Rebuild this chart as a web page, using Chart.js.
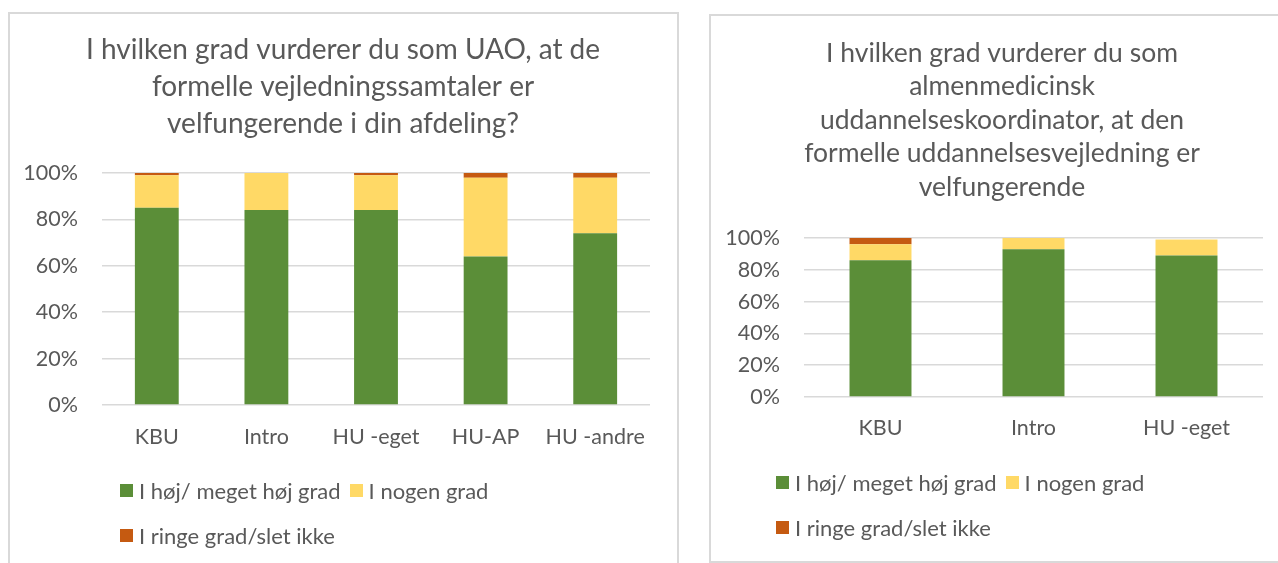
<!DOCTYPE html>
<html>
<head>
<meta charset="utf-8">
<script src="https://cdn.jsdelivr.net/npm/chart.js@4"></script>
<style>
  html, body { margin: 0; padding: 0; background: #fff; overflow: hidden; }
  body { width: 1278px; height: 563px; position: relative; font-family: Lato, sans-serif; }
  .card { position: absolute; border: 2px solid #d9d9d9; box-sizing: border-box; }
  canvas { position: absolute; top: 0; }
  .legend { position: absolute; color: #595959; font: 22px Lato, sans-serif; }
  .row { position: absolute; left: 0; display: flex; align-items: center; white-space: nowrap; height: 26px; transform: translateY(-50%); }
  .item { display: flex; align-items: center; margin-right: 9px; }
  .box { width: 13px; height: 13px; margin-right: 6px; }
</style>
</head>
<body>
<div class="card" style="left:8px;top:12px;width:671px;height:600px"></div>
<div class="card" style="left:709px;top:14px;width:600px;height:549px"></div>
<canvas id="left" width="690" height="563" style="left:0;width:690px;height:563px"></canvas>
<canvas id="right" width="588" height="563" style="left:690px;width:588px;height:563px"></canvas>
<div class="legend" id="legLeft" style="left:120px;top:0"></div>
<div class="legend" id="legRight" style="left:776px;top:0"></div>
<script>
// data
const seriesNames = ['I høj/ meget høj grad', 'I nogen grad', 'I ringe grad/slet ikke'];
const seriesColors = ['#5B8E38', '#FFD966', '#C55A11'];

const leftTitle = ['I hvilken grad vurderer du som UAO, at de', 'formelle vejledningssamtaler er', 'velfungerende i din afdeling?'];
const leftCategories = ['KBU', 'Intro', 'HU -eget', 'HU-AP', 'HU -andre'];
const leftHigh = [85, 84, 84, 64, 74];
const leftSome = [14, 16, 15, 34, 24];
const leftLow = [1, 0, 1, 2, 2];

const rightTitle = ['I hvilken grad vurderer du som', 'almenmedicinsk', 'uddannelseskoordinator, at den', 'formelle uddannelsesvejledning er', 'velfungerende'];
const rightCategories = ['KBU', 'Intro', 'HU -eget'];
const rightHigh = [86, 93, 89];
const rightSome = [10, 7, 10];
const rightLow = [4, 0, 0];

const text = '#595959';
const grid = '#d9d9d9';

// center the title over the whole card, not just the canvas
const titleShift = {
  id: 'titleShift',
  afterLayout(chart, args, opts) {
    const t = chart.titleBlock;
    if (t) { t.left = opts.left; t.right = opts.right; }
  }
};

const makeChart = (id, cats, values, title, lay) => {
  return new Chart(document.getElementById(id).getContext('2d'), {
    type: 'bar',
    plugins: [titleShift],
    data: {
      labels: cats,
      datasets: values.map((v, i) => ({
        label: seriesNames[i],
        data: v,
        backgroundColor: seriesColors[i],
        borderWidth: 0,
        barPercentage: lay.bar,
        categoryPercentage: 1
      }))
    },
    options: {
      responsive: false,
      animation: false,
      layout: { padding: { left: 0, right: lay.padR, top: 0, bottom: 0 } },
      plugins: {
        legend: { display: false },
        tooltip: { enabled: false },
        titleShift: { left: lay.cardL, right: lay.cardR },
        title: {
          display: true,
          text: title,
          color: text,
          font: { family: 'Lato', size: lay.titleSize, weight: 'normal', lineHeight: lay.titleLH / lay.titleSize },
          padding: { top: lay.titleTop, bottom: lay.titleBottom }
        }
      },
      scales: {
        x: {
          stacked: true,
          grid: { display: false, drawTicks: false },
          border: { display: false },
          ticks: { color: text, font: { family: 'Lato', size: 21.5 }, padding: lay.xPad },
          afterFit: s => { s.height = lay.xH; }
        },
        y: {
          stacked: true,
          min: 0,
          max: 100,
          grid: { color: grid, lineWidth: 1.5, drawTicks: false },
          border: { display: false },
          ticks: { stepSize: 20, color: text, font: { family: 'Lato', size: 21.5 }, padding: 24, callback: v => v + '%' },
          afterFit: s => { s.width = lay.yW; }
        }
      }
    }
  });
};

const makeLegend = (id, rows) => {
  const el = document.getElementById(id);
  const groups = [[0, 1], [2]];
  groups.forEach((g, r) => {
    const row = document.createElement('div');
    row.className = 'row';
    row.style.top = rows[r] + 'px';
    g.forEach(i => {
      const it = document.createElement('div');
      it.className = 'item';
      it.innerHTML = '<span class="box" style="background:' + seriesColors[i] + '"></span><span>' + seriesNames[i] + '</span>';
      row.appendChild(it);
    });
    el.appendChild(row);
  });
};

makeChart('left', leftCategories, [leftHigh, leftSome, leftLow], leftTitle,
  { padR: 40, yW: 102, xH: 158, xPad: 19, bar: 0.4, cardL: 8, cardR: 678,
    titleSize: 28, titleLH: 37, titleTop: 31.5, titleBottom: 30.5 });
makeChart('right', rightCategories, [rightHigh, rightSome, rightLow], rightTitle,
  { padR: 15, yW: 114, xH: 166, xPad: 18, bar: 0.405, cardL: 19, cardR: 605,
    titleSize: 26.5, titleLH: 33.5, titleTop: 36.25, titleBottom: 34.25 });

makeLegend('legLeft', [490, 535]);
makeLegend('legRight', [482, 527]);
</script>
</body>
</html>
